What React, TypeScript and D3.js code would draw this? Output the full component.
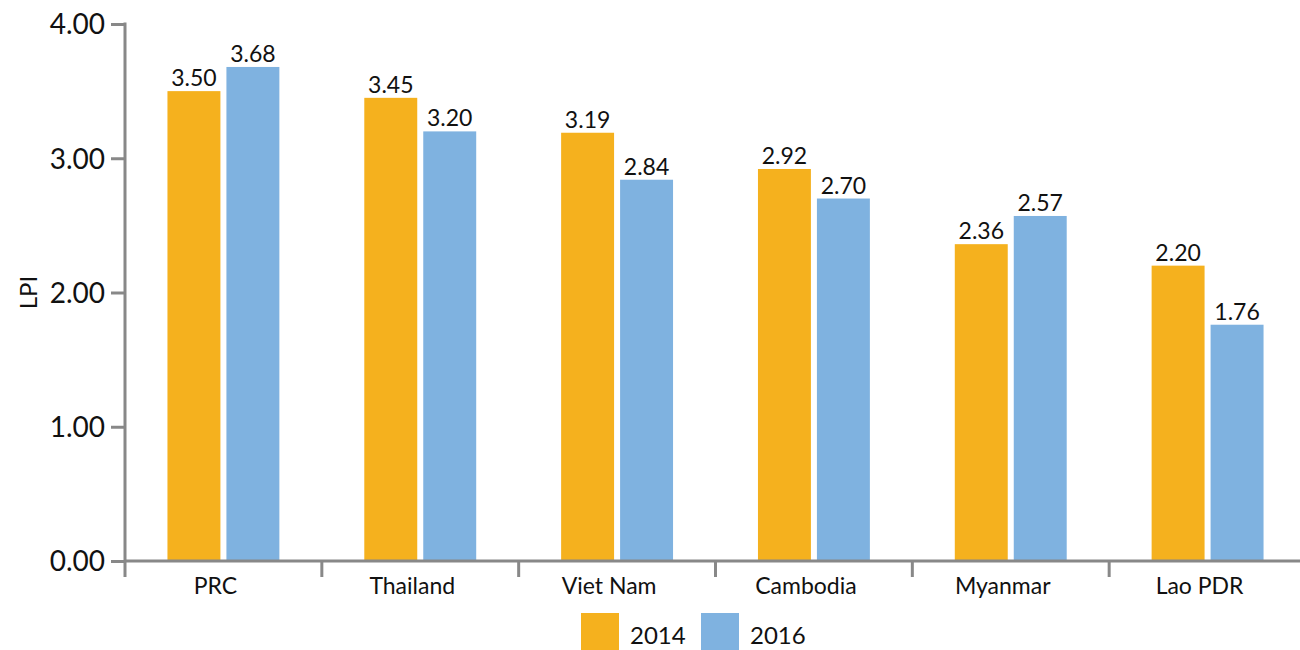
import React, { useEffect, useRef } from "react";
import * as d3 from "d3";

const countries = ["PRC", "Thailand", "Viet Nam", "Cambodia", "Myanmar", "Lao PDR"];
const lpi2014 = [3.5, 3.45, 3.19, 2.92, 2.36, 2.2];
const lpi2016 = [3.68, 3.2, 2.84, 2.7, 2.57, 1.76];
const seriesNames = ["2014", "2016"];
const colors = ["#F5B11E", "#7FB2E0"];
const yTicks = [0, 1, 2, 3, 4];

const App: React.FC = () => {
  const svgRef = useRef<SVGSVGElement | null>(null);

  useEffect(() => {
    if (!svgRef.current) return;
    const width = 1300;
    const height = 650;
    const margin = { top: 24, right: -6, bottom: 89, left: 125 };

    d3.select(svgRef.current).selectAll("*").remove();
    const svg = d3.select(svgRef.current).attr("width", width).attr("height", height);
    const font = "Lato, 'Open Sans', sans-serif";

    const x = d3
      .scaleBand()
      .domain(countries)
      .range([margin.left, width - margin.right])
      .paddingInner(0)
      .paddingOuter(0);

    const xInner = d3
      .scaleBand()
      .domain(seriesNames)
      .range([0, x.bandwidth()])
      .paddingInner(0.102)
      .paddingOuter(0.72);

    const y = d3
      .scaleLinear()
      .domain([0, 4])
      .range([height - margin.bottom, margin.top]);

    const rows = countries.map((c, i) => ({ c, vals: [lpi2014[i], lpi2016[i]] }));

    // bars
    const groups = svg
      .selectAll(".grp")
      .data(rows)
      .enter()
      .append("g")
      .attr("transform", (d) => `translate(${x(d.c)},0)`);

    groups
      .selectAll("rect")
      .data((d) => d.vals.map((v, j) => ({ v, j })))
      .enter()
      .append("rect")
      .attr("x", (d) => xInner(seriesNames[d.j])!)
      .attr("y", (d) => y(d.v))
      .attr("width", xInner.bandwidth())
      .attr("height", (d) => y(0) - y(d.v))
      .attr("fill", (d) => colors[d.j]);

    groups
      .selectAll("text")
      .data((d) => d.vals.map((v, j) => ({ v, j })))
      .enter()
      .append("text")
      .attr("x", (d) => xInner(seriesNames[d.j])! + xInner.bandwidth() / 2)
      .attr("y", (d) => y(d.v) - 5)
      .attr("text-anchor", "middle")
      .attr("font-family", font)
      .attr("font-size", 23)
      .attr("fill", "#111")
      .text((d) => d.v.toFixed(2));

    const axisColor = "#888";

    // y axis
    const yAxis = svg
      .append("g")
      .attr("transform", `translate(${margin.left},0)`)
      .call(
        d3
          .axisLeft(y)
          .tickValues(yTicks)
          .tickSize(14)
          .tickPadding(6)
          .tickFormat((d) => (d as number).toFixed(2))
      );
    yAxis.select(".domain").remove();
    yAxis.selectAll("line").attr("stroke", axisColor).attr("stroke-width", 3);
    yAxis
      .selectAll("text")
      .attr("font-family", font)
      .attr("font-size", 28)
      .attr("fill", "#111")
      .attr("dy", "0.35em");
    svg
      .append("line")
      .attr("x1", margin.left)
      .attr("x2", margin.left)
      .attr("y1", y(4) - 1.5)
      .attr("y2", y(0) + 16)
      .attr("stroke", axisColor)
      .attr("stroke-width", 3);

    // x axis
    svg
      .append("line")
      .attr("x1", margin.left)
      .attr("x2", width)
      .attr("y1", y(0))
      .attr("y2", y(0))
      .attr("stroke", axisColor)
      .attr("stroke-width", 3);
    svg
      .selectAll(".xtick")
      .data(countries.slice(1))
      .enter()
      .append("line")
      .attr("x1", (d) => x(d)!)
      .attr("x2", (d) => x(d)!)
      .attr("y1", y(0))
      .attr("y2", y(0) + 16)
      .attr("stroke", axisColor)
      .attr("stroke-width", 3);
    svg
      .selectAll(".xlab")
      .data(countries)
      .enter()
      .append("text")
      .attr("x", (d) => x(d)! + x.bandwidth() / 2 - 8)
      .attr("y", y(0) + 33)
      .attr("text-anchor", "middle")
      .attr("font-family", font)
      .attr("font-size", 23)
      .attr("fill", "#111")
      .text((d) => d);

    // y label
    svg
      .append("text")
      .attr("transform", `translate(37,${(y(0) + y(4)) / 2}) rotate(-90)`)
      .attr("text-anchor", "middle")
      .attr("font-family", font)
      .attr("font-size", 24)
      .attr("fill", "#111")
      .text("LPI");

    // legend
    const legend = svg
      .selectAll(".leg")
      .data(seriesNames)
      .enter()
      .append("g")
      .attr("transform", (_d, i) => `translate(${581 + i * 120},613)`);
    legend
      .append("rect")
      .attr("width", 38)
      .attr("height", 37)
      .attr("fill", (_d, i) => colors[i]);
    legend
      .append("text")
      .attr("x", 49)
      .attr("y", 31)
      .attr("font-family", font)
      .attr("font-size", 24)
      .attr("fill", "#111")
      .text((d) => d);
  }, []);

  return (
    <div style={{ position: "absolute", top: 0, left: 0, background: "#fff" }}>
      <svg ref={svgRef} style={{ display: "block" }}></svg>
    </div>
  );
};

export default App;
